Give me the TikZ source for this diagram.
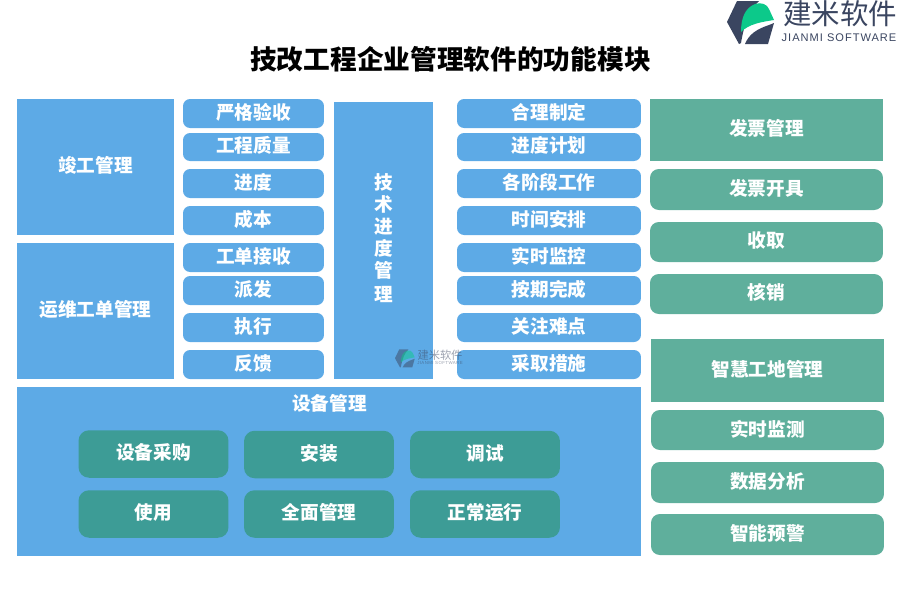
\documentclass[tikz,border=0pt]{standalone}
\usepackage{fontspec}
\setmainfont{Noto Sans CJK SC}
\newfontfamily\latinfont[LetterSpace=9]{Liberation Sans}
\definecolor{moduleblue}{HTML}{5DAAE6}
\definecolor{modulegreen}{HTML}{5FAF9C}
\definecolor{moduleteal}{HTML}{3D9C96}
\definecolor{logodark}{HTML}{3A4560}
\definecolor{logogreen}{HTML}{0CC98A}

\begin{document}
\begin{tikzpicture}[
    x=0.02cm, y=-0.02cm,
    % Styles
    block/.style={
        rectangle, text=white, font=\fontsize{10.6}{12}\selectfont\bfseries,
        align=center, inner sep=0pt, text depth=2.4pt
    },
    bluebox/.style={block, fill=moduleblue},
    bluepill/.style={bluebox, rounded corners=4pt, minimum width=2.82cm},
    planpill/.style={bluebox, rounded corners=4pt, minimum width=3.68cm},
    greenbox/.style={block, fill=modulegreen, minimum width=4.66cm},
    greenpill/.style={greenbox, rounded corners=5pt},
    devicepill/.style={block, fill=moduleteal, rounded corners=6pt, minimum width=3cm, minimum height=0.95cm},
    logomark/.pic={
        \fill[logodark] (10,1) -- (32,1) .. controls (22,10) and (17,25) .. (14,43) -- (12,44) -- (0,22) -- cycle;
        \fill[logodark] (18,44) .. controls (22,34) and (30,29) .. (42,25) -- (47,23) -- (41,44) -- cycle;
        \fill[logogreen] (14,32) .. controls (14,18) and (18,8) .. (28,4) .. controls (34,2) and (40,4) .. (42,9) -- (47,20) .. controls (34,22) and (22,24) .. (14,32) -- cycle;
    }
  ]

    \useasboundingbox (0,0) rectangle (900,600);

    % --- Title and logo ---
    \node (title) [inner sep=0pt, font=\fontsize{15.2}{18}\selectfont\bfseries] at (450.5,59) {技改工程企业管理软件的功能模块};
    \pic at (727,0) {logomark};
    \node (logoname) [inner sep=0pt, text=logodark, font=\fontsize{16.2}{18}\selectfont] at (840,14) {建米软件};
    \node (logolatin) [inner sep=0pt, text=logodark, font=\latinfont\fontsize{6.3}{7}\selectfont] at (839,38) {JIANMI SOFTWARE};

    % --- Left blocks ---
    \node (acceptance) [bluebox, minimum width=3.14cm, minimum height=2.72cm] at (95.5,167) {竣工管理};
    \node (workorder) [bluebox, minimum width=3.14cm, minimum height=2.72cm] at (95.5,311) {运维工单管理};

    % --- Pills beside the left blocks ---
    \foreach \name/\y/\h/\label in {
        check/113.5/29/严格验收, quality/147/28/工程质量, progress/183.5/29/进度, cost/220.5/29/成本,
        receive/257.5/29/工单接收, dispatch/290.5/29/派发, execute/327.5/29/执行, feedback/364.5/29/反馈}
        \node (\name) [bluepill, minimum height=\h*0.02cm] at (253.5,\y) {\label};

    % --- Centre column ---
    \node (techprogress) [bluebox, minimum width=1.98cm, minimum height=5.54cm] at (383.5,240.5) {};
    \foreach \y/\label [count=\i] in {184/技, 206/术, 228/进, 250/度, 272/管, 296/理}
        \node (tech\i) [block] at (383.5,\y) {\label};

    % --- Pills beside the centre column ---
    \foreach \name/\y/\h/\label in {
        rules/113.5/29/合理制定, schedule/147/28/进度计划, stages/183.5/29/各阶段工作, timing/220.5/29/时间安排,
        monitor/257.5/29/实时监控, ontime/290.5/29/按期完成, difficult/327.5/29/关注难点, measures/364.5/29/采取措施}
        \node (\name) [planpill, minimum height=\h*0.02cm] at (549,\y) {\label};

    % --- Equipment block ---
    \node (equipment) [bluebox, minimum width=12.48cm, minimum height=3.38cm] at (329,471.5) {};
    \node (equiptitle) [block] at (329.5,405) {设备管理};
    \foreach \name/\x/\y/\label in {
        purchase/153.5/454/设备采购, install/319/454.5/安装, debug/485/454.5/调试,
        usage/153.5/514/使用, overall/319/514/全面管理, normal/485/514/正常运行}
        \node (\name) [devicepill] at (\x,\y) {\label};

    % --- Right blocks ---
    \node (invoice) [greenbox, minimum height=1.24cm] at (766.5,130) {发票管理};
    \foreach \name/\y/\h/\label in {issue/189.5/41/发票开具, collect/242/40/收取, writeoff/294/40/核销}
        \node (\name) [greenpill, minimum height=\h*0.02cm] at (766.5,\y) {\label};
    \node (smartsite) [greenbox, minimum height=1.26cm] at (767.5,370.5) {智慧工地管理};
    \foreach \name/\y/\h/\label in {realtime/430/40/实时监测, analysis/482.5/41/数据分析, warning/534.5/41/智能预警}
        \node (\name) [greenpill, minimum height=\h*0.02cm] at (767.5,\y) {\label};

    % --- Watermark ---
    \begin{scope}[opacity=0.5]
        \pic[scale=0.42] at (395,349) {logomark};
        \node (markname) [inner sep=0pt, text=logodark, font=\fontsize{6.4}{7}\selectfont] at (440,355) {建米软件};
        \node (marklatin) [inner sep=0pt, text=logodark, font=\latinfont\fontsize{2.5}{3}\selectfont] at (440,363) {JIANMI SOFTWARE};
    \end{scope}

  \end{tikzpicture}
\end{document}
